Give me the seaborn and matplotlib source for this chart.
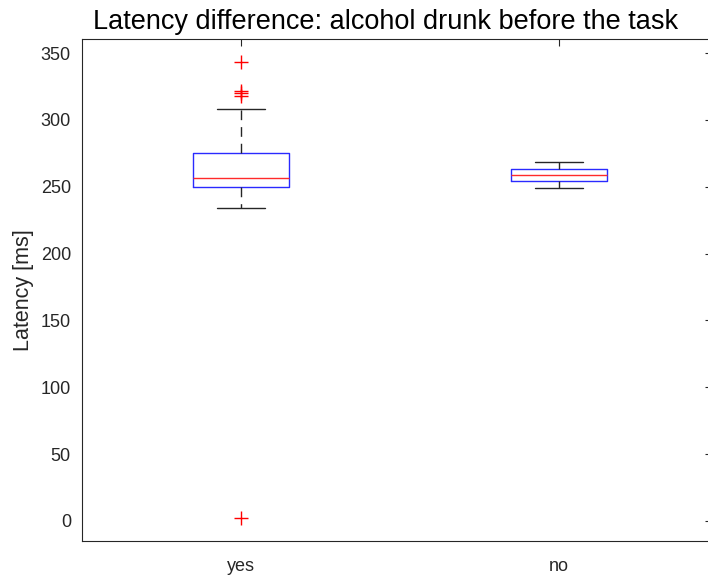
import matplotlib
matplotlib.use("Agg")
import matplotlib.pyplot as plt
import seaborn as sns
import pandas as pd

groups = ["yes", "no"]
yes_values = [2.2, 234.1, 240, 244, 248, 250.0, 251.5, 253, 254.5, 255.8, 256.8,
              259, 262, 266, 270, 275.6, 308.4, 318.2, 320, 321.5, 343.3]
no_values = [249.3, 254.3, 258.8, 263, 268.3]
yticks = [0, 50, 100, 150, 200, 250, 300, 350]

df = pd.DataFrame({
    "group": ["yes"] * len(yes_values) + ["no"] * len(no_values),
    "latency": yes_values + no_values,
})

sns.set_style("white")
plt.rcParams["font.family"] = ["Liberation Sans", "DejaVu Sans"]

fig = plt.figure(figsize=(7.08, 5.76), dpi=100)
ax = fig.add_axes([82 / 708, 35 / 576, 630 / 708, 502 / 576])

sns.boxplot(data=df, x="group", y="latency", order=groups, ax=ax,
            fill=False, width=0.3, whis=1.5, linewidth=1.0,
            boxprops=dict(color="#2a2aff"),
            medianprops=dict(color="#ff2a2a"),
            whiskerprops=dict(color="#262626", linestyle=(0, (7, 5))),
            capprops=dict(color="#262626"),
            flierprops=dict(marker="+", markeredgecolor="#ff0000",
                            markerfacecolor="none", markersize=10,
                            markeredgewidth=1.0))

ax.set_xlim(-0.5, 1.481)
ax.set_ylim(-15, 360.5)
ax.set_yticks(yticks)
ax.set_xlabel("")
ax.set_ylabel("Latency [ms]", fontsize=15.5, color="#262626", labelpad=5)
ax.set_title("Latency difference: alcohol drunk before the task", fontsize=19.5,
             color="black", pad=7.5, x=0.4825)
ax.tick_params(axis="both", direction="in", length=5, width=0.8,
               colors="#262626", labelsize=13, top=True, right=True)
ax.tick_params(axis="x", pad=12)
ax.tick_params(axis="y", pad=8)
for s in ax.spines.values():
    s.set_visible(True)
    s.set_color("#262626")
    s.set_linewidth(0.8)

fig.savefig("out.png", dpi=100)
